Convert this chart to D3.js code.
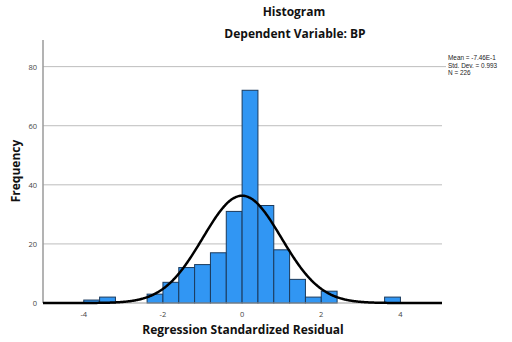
<!DOCTYPE html>
<html>
<head>
    <style>
        body { margin: 0; background: #fff; }
        text { font-family: "Open Sans", "DejaVu Sans", sans-serif; }
        .title { font-weight: bold; font-size: 12px; fill: #111; text-anchor: middle; }
        .axis-label { font-weight: bold; font-size: 12px; fill: #111; text-anchor: middle; }
        .tick-label { font-size: 7.5px; fill: #444; }
        .stats { font-size: 6.4px; fill: #222; font-family: "Liberation Sans", sans-serif; }
    </style>
    <script src="https://d3js.org/d3.v7.min.js"></script>
</head>
<body>
    <svg width="512" height="342"></svg>
    <script>
        // histogram of regression standardized residuals (bin width 0.4)
        var binStarts = [-4.0, -3.6, -2.4, -2.0, -1.6, -1.2, -0.8, -0.4, 0.0, 0.4, 0.8, 1.2, 1.6, 2.0, 3.6];
        var counts    = [1, 2, 3, 7, 12, 13, 17, 31, 72, 33, 18, 8, 2, 4, 2];
        var binWidth = 0.4;
        var xTicks = [-4, -2, 0, 2, 4];
        var yTicks = [0, 20, 40, 60, 80];
        var mean = -7.46e-16, sd = 0.993, n = 226;
        var statLines = ["Mean = -7.46E-1", "Std. Dev. = 0.993", "N = 226"];

        var svg = d3.select("svg");

        var x = d3.scaleLinear().domain([-5.03, 5.05]).range([43, 442]);
        var y = d3.scaleLinear().domain([0, 88]).range([303, 43]);

        // gridlines
        svg.append("g")
           .selectAll("line")
           .data(yTicks.filter(function(d) { return d > 0; }))
           .enter().append("line")
           .attr("x1", x.range()[0])
           .attr("x2", function(d) { return d === 80 ? 446 : x.range()[1]; })
           .attr("y1", function(d) { return y(d); })
           .attr("y2", function(d) { return y(d); })
           .attr("stroke", "#bdbdbd")
           .attr("stroke-width", 1);

        // bars
        svg.append("g")
           .selectAll("rect")
           .data(binStarts)
           .enter().append("rect")
           .attr("x", function(d) { return x(d); })
           .attr("width", function(d) { return x(d + binWidth) - x(d); })
           .attr("y", function(d, i) { return y(counts[i]); })
           .attr("height", function(d, i) { return y(0) - y(counts[i]); })
           .attr("fill", "#3196f3")
           .attr("stroke", "#1b3a5c")
           .attr("stroke-width", 1);

        // axes lines
        svg.append("line")
           .attr("x1", 43).attr("x2", 43)
           .attr("y1", 40).attr("y2", y(0))
           .attr("stroke", "#9a9a9a").attr("stroke-width", 1.5);
        svg.append("line")
           .attr("x1", 43).attr("x2", x.range()[1])
           .attr("y1", y(0)).attr("y2", y(0))
           .attr("stroke", "#9a9a9a").attr("stroke-width", 1);

        // normal curve
        var pts = d3.range(-5.03, 5.06, 0.02);
        var curve = d3.line()
            .x(function(d) { return x(d); })
            .y(function(d) {
                var z = (d - mean) / sd;
                return y(n * binWidth / (sd * Math.sqrt(2 * Math.PI)) * Math.exp(-0.5 * z * z));
            })
            .curve(d3.curveBasis);
        svg.append("path")
           .datum(pts)
           .attr("d", curve)
           .attr("fill", "none")
           .attr("stroke", "#000")
           .attr("stroke-width", 2.5);

        // tick labels
        svg.append("g")
           .selectAll("text")
           .data(yTicks)
           .enter().append("text")
           .attr("class", "tick-label")
           .attr("x", 37)
           .attr("y", function(d) { return y(d) + 3; })
           .attr("text-anchor", "end")
           .text(function(d) { return d; });

        svg.append("g")
           .selectAll("text")
           .data(xTicks)
           .enter().append("text")
           .attr("class", "tick-label")
           .attr("x", function(d) { return x(d); })
           .attr("y", 317)
           .attr("text-anchor", "middle")
           .text(function(d) { return d; });

        // titles
        svg.append("text").attr("class", "title").attr("x", 294).attr("y", 16).text("Histogram");
        svg.append("text").attr("class", "title").attr("x", 295).attr("y", 38).text("Dependent Variable: BP");

        svg.append("text")
           .attr("class", "axis-label")
           .attr("x", 243).attr("y", 334)
           .text("Regression Standardized Residual");

        svg.append("text")
           .attr("class", "axis-label")
           .attr("transform", "translate(20,171) rotate(-90)")
           .text("Frequency");

        // stats box
        svg.append("g")
           .selectAll("text")
           .data(statLines)
           .enter().append("text")
           .attr("class", "stats")
           .attr("x", 448)
           .attr("y", function(d, i) { return 60 + i * 7.6; })
           .text(function(d) { return d; });
    </script>
</body>
</html>
